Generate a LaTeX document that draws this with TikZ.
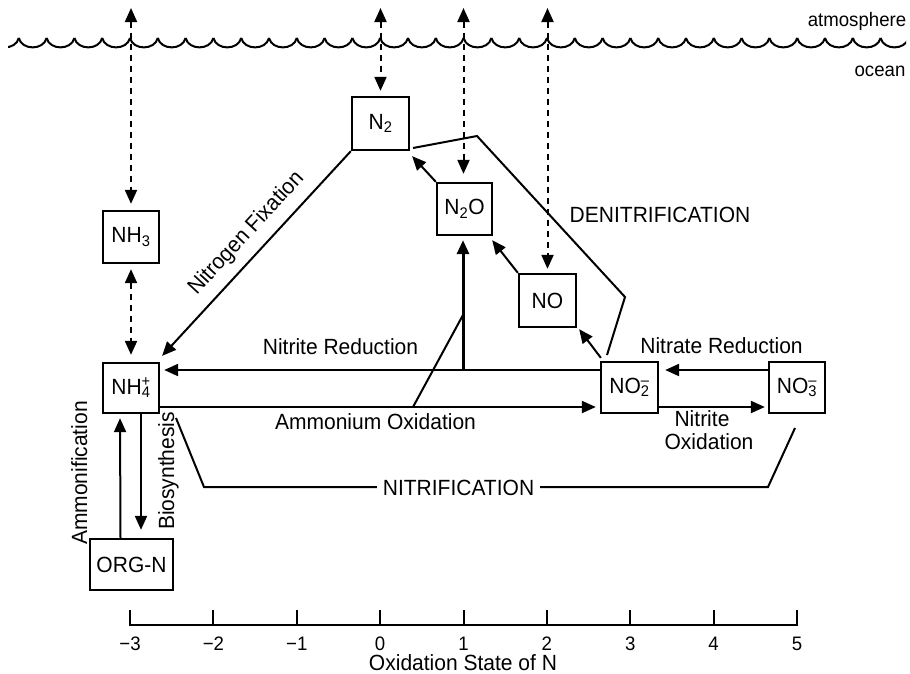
\documentclass[tikz,border=0pt]{standalone}
\usepackage{fontspec}
\setmainfont{Liberation Sans}[FakeStretch=0.955]
\usetikzlibrary{arrows.meta}
% charge stacked over a subscript count (e.g. NH4+)
\newcommand\ionchg[2]{\setbox0\hbox{\textsubscript{#2}}\rlap{\hbox to\wd0{\hss\textsuperscript{#1}\hss}}\box0}

\begin{document}
\begin{tikzpicture}[x=1pt,y=-1pt,
  font=\fontsize{22pt}{26pt}\selectfont,
  species/.style={draw,line width=2.3pt,inner sep=0pt,minimum width=56pt,minimum height=52pt},
  flow/.style={line width=2pt,-{Triangle[length=14pt,width=12pt]}},
  mainflow/.style={flow,line width=3pt},
  exch/.style={line width=2pt,dash pattern=on 6pt off 5pt,
    {Triangle[length=14pt,width=12pt]}-{Triangle[length=14pt,width=12pt]}},
  guide/.style={line width=2pt,line join=miter},
  lbl/.style={anchor=base,inner sep=0pt},
  small/.style={font=\fontsize{19.5pt}{23pt}\selectfont}]

\useasboundingbox (0,0) rectangle (910,673);

% sea surface
\begin{scope}
  \clip (8,20) rectangle (906,60);
  \foreach \k in {-5,...,28}{
    \pgfmathsetmacro\xa{130+27.8*\k}
    \draw[line width=2pt] (\xa,38) .. controls ({\xa+3},50.5) and ({\xa+24.8},50.5) .. ({\xa+27.8},38);
  }
\end{scope}
\node[lbl,small] (atm) at (857,26) {atmosphere};
\node[lbl,small] (sea) at (880,76) {ocean};

% nitrogen species
\node[species,minimum width=57pt,minimum height=53pt] (n2)  at (380.5,123.5) {N\textsubscript{2}};
\node[species,minimum width=55pt] (n2o) at (464.5,209) {N\textsubscript{2}O};
\node[species,minimum width=57pt,minimum height=53pt] (no)  at (547.5,300.5) {NO};
\node[species] (nh3) at (131,237) {NH\textsubscript{3}};
\node[species,minimum height=50pt] (nh4) at (131,388) {NH\ionchg{+}{4}};
\node[species,minimum width=57pt,minimum height=51pt] (no2) at (629.5,387.5) {NO\ionchg{–}{2}};
\node[species,minimum height=51pt] (no3) at (797,387.5) {NO\ionchg{–}{3}};
\node[species,minimum width=83pt,minimum height=51pt] (orgn) at (131.5,564.5) {ORG-N};

% air-sea exchange
\coordinate (sky) at (0,8);
\draw[exch] (nh3.north |- sky) -- ([yshift=6pt]nh3.north);
\draw[exch] (n2.north |- sky) -- ([yshift=5pt]n2.north);
\draw[exch] ([xshift=-1pt]n2o.north |- sky) -- ([xshift=-1pt,yshift=8pt]n2o.north);
\draw[exch] (no.north |- sky) -- ([yshift=4pt]no.north);
\draw[exch] ([yshift=-5pt]nh3.south) -- ([yshift=7pt]nh4.north);

% transformations
\coordinate (nrY) at (0,370);
\coordinate (aoY) at (0,407);
\draw[flow,shorten >=4pt] (no2.west |- nrY) -- (nh4.east |- nrY);
\draw[flow,shorten >=4pt] (nh4.east |- aoY) -- (no2.west |- aoY);
\draw[flow,shorten >=6pt] (no3.west |- nrY) -- (no2.east |- nrY);
\draw[flow,shorten >=3pt] (no2.east |- aoY) -- (no3.west |- aoY);
\draw[mainflow,shorten >=4pt] ([xshift=-1.5pt]n2o.south |- nrY) -- ([xshift=-1.5pt]n2o.south);
\draw[flow] ([xshift=1pt,yshift=3pt]no2.north west) -- ([xshift=2pt,yshift=-1pt]no.south east);
\draw[flow] (no.north west) -- ([xshift=-1pt,yshift=-4pt]n2o.south east);
\draw[flow] (n2o.north west) -- ([xshift=2pt,yshift=-5pt]n2.south east);
\draw[flow] (n2.south west) -- ([xshift=2pt,yshift=6pt]nh4.north east);
\draw[flow,shorten >=4pt] ([xshift=-11pt]orgn.north) -- ([xshift=-11pt]nh4.south);
\draw[flow,shorten >=8pt] ([xshift=10pt]nh4.south) -- ([xshift=10pt]nh4.south |- orgn.north);

% process brackets
\draw[guide] (413,148) -- (477,136) -- (625,297) -- (607,355);
\draw[guide] (463,315) -- (413,407);
\draw[guide] (176,418) -- (204,487) -- (768,487) -- (795,428);

% labels
\node[lbl] (lnr) at (340.5,354) {Nitrite Reduction};
\node[lbl] (lao) at (375.5,429) {Ammonium Oxidation};
\node[lbl] (ltr) at (721.5,353) {Nitrate Reduction};
\node[lbl] (lno1) at (702,426) {Nitrite};
\node[lbl] (lno2) at (709,449) {Oxidation};
\node[lbl] (lden) at (660,222) {DENITRIFICATION};
\node[anchor=base,fill=white,inner xsep=6pt,inner ysep=2pt] (lnit) at (458.5,495) {NITRIFICATION};
\node[rotate=47.3,inner sep=0pt] (lfix) at (246.5,233.5) {Nitrogen Fixation};
\node[lbl,rotate=90] (lamm) at (87,473) {Ammonification};
\node[lbl,rotate=90] (lbio) at (174,471) {Biosynthesis};

% oxidation state axis
\draw[line width=2pt] (130,610) -- (130,625) -- (797,625) -- (797,610);
\foreach \s [count=\i from 0] in {−3,−2,−1,0,1,2,3,4,5}{
  \pgfmathsetmacro\xt{130+83.375*\i}
  \draw[line width=2pt] (\xt,610) -- (\xt,625);
  \node[lbl,font=\fontsize{19.5pt}{23pt}\selectfont] (tick\i) at (\xt,650) {\s};
}
\node[lbl] (axt) at (463,670) {Oxidation State of N};
\end{tikzpicture}
\end{document}
